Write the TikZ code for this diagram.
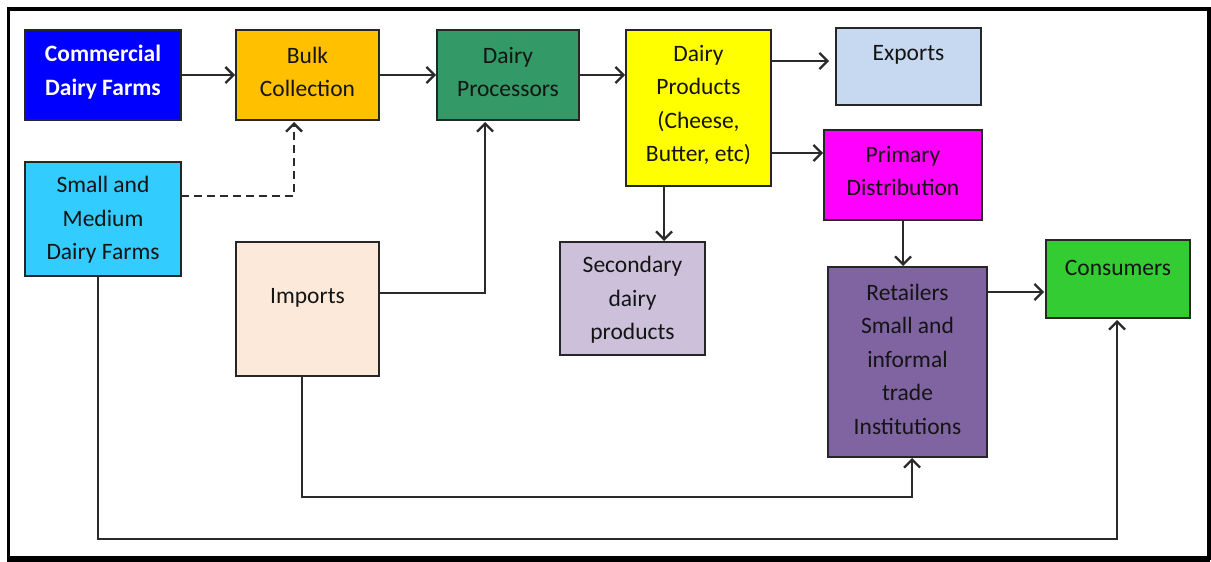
\documentclass[tikz,border=0pt]{standalone}
\usepackage{fontspec}
\setmainfont{Carlito}
\usetikzlibrary{arrows.meta}
\definecolor{cCom}{HTML}{0000FF}
\definecolor{cBulk}{HTML}{FFC000}
\definecolor{cProc}{HTML}{339966}
\definecolor{cProd}{HTML}{FFFF00}
\definecolor{cExp}{HTML}{C6D9F1}
\definecolor{cPrim}{HTML}{FF00FF}
\definecolor{cSm}{HTML}{33CCFF}
\definecolor{cImp}{HTML}{FDE9D9}
\definecolor{cSec}{HTML}{CCC0DA}
\definecolor{cRet}{HTML}{8064A2}
\definecolor{cCons}{HTML}{33CC33}
\definecolor{cLine}{HTML}{2A2A2A}
\definecolor{cTxt}{HTML}{141414}
\tikzset{
  box/.style={draw=black!85, line width=1.6pt, inner sep=0pt, outer sep=0pt},
  txt/.style={inner sep=0pt, align=center, text=cTxt, font=\fontsize{23.5}{33.5}\selectfont},
  arr/.style={draw=cLine, line width=2.3pt, -{Straight Barb[length=8pt,width=16pt,line width=2.3pt]}},
}
\begin{document}
\begin{tikzpicture}[x=1pt,y=-1pt]
\useasboundingbox (0,0) rectangle (1211,562);
% frame
\draw[line width=3.5pt] (8.5,9) rectangle (1209,558);
\draw[line width=3pt] (7,560.5) -- (1210,560.5);
% boxes
\node[box, fill=cCom, minimum width=156pt, minimum height=90pt] (com) at (103,75) {};
\node[box, fill=cBulk, minimum width=143pt, minimum height=90pt] (bulk) at (307.5,75) {};
\node[box, fill=cProc, minimum width=142pt, minimum height=90pt] (proc) at (508,75) {};
\node[box, fill=cProd, minimum width=145pt, minimum height=156pt] (prod) at (698.5,108) {};
\node[box, fill=cExp, minimum width=145pt, minimum height=77pt] (exp) at (908.5,66.5) {};
\node[box, fill=cPrim, minimum width=158pt, minimum height=90pt] (prim) at (903,175) {};
\node[box, fill=cSm, minimum width=156pt, minimum height=114pt] (sm) at (103,219) {};
\node[box, fill=cImp, minimum width=143pt, minimum height=134pt] (imp) at (307.5,309) {};
\node[box, fill=cSec, minimum width=145pt, minimum height=113pt] (sec) at (632.5,298.5) {};
\node[box, fill=cRet, minimum width=159pt, minimum height=190pt] (ret) at (907.5,362) {};
\node[box, fill=cCons, minimum width=144pt, minimum height=78pt] (cons) at (1118,279) {};
% texts
\node[txt, text=white, font=\fontsize{23.5}{33.5}\selectfont\bfseries] (comT) at (103,72) {Commercial\\Dairy Farms};
\node[txt] (bulkT) at (307.5,72) {Bulk\\Collection};
\node[txt] (procT) at (508,72) {Dairy\\Processors};
\node[txt] (prodT) at (698.5,105) {Dairy\\Products\\(Cheese,\\Butter, etc)};
\node[txt] (expT) at (908.5,55) {Exports};
\node[txt] (primT) at (903,171) {Primary\\Distribution};
\node[txt] (smT) at (103,220) {Small and\\Medium\\Dairy Farms};
\node[txt] (impT) at (307.5,298) {Imports};
\node[txt] (secT) at (632.5,300) {Secondary\\dairy\\products};
\node[txt] (retT) at (907.5,359) {Retailers\\Small and\\informal\\trade\\Institutions};
\node[txt] (consT) at (1118,268) {Consumers};
% helper coordinates
\coordinate (yE) at (0,61);
\coordinate (yP) at (0,153);
\coordinate (xS) at (664,0);
\coordinate (yD) at (0,196);
\coordinate (xD) at (294,0);
\coordinate (yI) at (0,293);
\coordinate (xI) at (485,0);
\coordinate (yR) at (0,292);
\coordinate (xIb) at (302,0);
\coordinate (yIb) at (0,497);
\coordinate (xRb) at (912,0);
\coordinate (xSb) at (98,0);
\coordinate (ySb) at (0,539);
\coordinate (xCb) at (1117,0);
% connectors
\draw[arr, shorten >=1pt] (com) -- (bulk);
\draw[arr, shorten >=1pt] (bulk) -- (proc);
\draw[arr, shorten >=1pt] (proc.east) -- (proc.east -| prod.west);
\draw[arr, shorten >=7pt] (prod.east |- yE) -- (exp.west |- yE);
\draw[arr, shorten >=1pt] (prod.east |- yP) -- (prim.west |- yP);
\draw[arr, shorten >=1pt] (prod.south -| xS) -- (sec.north -| xS);
\draw[arr, dash pattern=on 8pt off 5pt, line width=2pt, shorten >=2pt] (sm.east |- yD) -| (bulk.south -| xD);
\draw[arr, shorten >=2pt] (imp.east |- yI) -| (proc.south -| xI);
\draw[arr, shorten >=1pt] (prim.south) -- (prim.south |- ret.north);
\draw[arr, shorten >=2pt] (ret.east |- yR) -- (cons.west |- yR);
\draw[arr, shorten >=1pt] (imp.south -| xIb) |- (xRb |- yIb) -- (ret.south -| xRb);
\draw[arr, shorten >=2pt] (sm.south -| xSb) |- (xCb |- ySb) -- (cons.south -| xCb);
\end{tikzpicture}
\end{document}
